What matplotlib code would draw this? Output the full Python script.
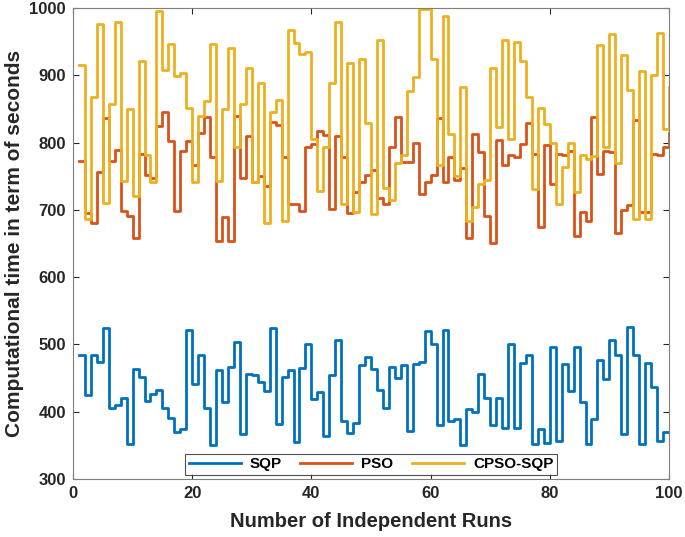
import numpy as np
import matplotlib
matplotlib.use("Agg")
from matplotlib import pyplot as plt

# values, runs 1..100
sqp = [485, 425, 485, 474, 524, 405, 410, 420, 352, 464,
       452, 416, 427, 432, 405, 390, 370, 374, 522, 441,
       485, 405, 351, 462, 414, 467, 504, 367, 456, 455,
       444, 431, 525, 382, 451, 462, 355, 465, 501, 419,
       429, 364, 455, 506, 386, 369, 383, 470, 482, 464,
       432, 405, 466, 450, 470, 371, 471, 474, 520, 501,
       381, 521, 386, 389, 350, 404, 400, 456, 421, 381,
       420, 376, 500, 376, 472, 485, 352, 375, 354, 496,
       357, 471, 431, 496, 414, 352, 389, 477, 449, 506,
       485, 367, 526, 485, 352, 472, 437, 356, 370, 370]

pso = [773, 696, 680, 756, 837, 773, 789, 698, 691, 658,
       783, 752, 748, 824, 845, 802, 699, 787, 802, 767,
       815, 838, 778, 654, 689, 654, 839, 748, 810, 741,
       750, 736, 830, 826, 779, 709, 709, 698, 793, 798,
       817, 812, 701, 810, 778, 696, 727, 741, 752, 760,
       718, 709, 793, 838, 771, 771, 799, 724, 741, 752,
       837, 741, 779, 744, 763, 658, 813, 786, 691, 651,
       804, 766, 782, 779, 798, 829, 783, 674, 796, 739,
       783, 781, 787, 661, 697, 684, 838, 753, 787, 786,
       666, 700, 707, 834, 697, 697, 783, 781, 793, 815]

cpso_sqp = [915, 686, 868, 976, 710, 858, 980, 743, 850, 721,
            921, 782, 741, 996, 908, 947, 899, 904, 852, 741,
            840, 862, 947, 743, 850, 941, 794, 857, 911, 741,
            888, 681, 845, 864, 683, 968, 948, 931, 934, 806,
            728, 793, 888, 980, 709, 918, 697, 925, 829, 694,
            952, 733, 715, 769, 781, 877, 897, 998, 999, 925,
            767, 988, 813, 751, 883, 684, 705, 739, 745, 911,
            823, 953, 805, 950, 921, 868, 731, 852, 828, 800,
            709, 764, 800, 726, 782, 775, 780, 945, 793, 961,
            769, 930, 878, 687, 906, 687, 900, 963, 820, 882]

labels = ["SQP", "PSO", "CPSO-SQP"]
colors = ["#0072BD", "#D95319", "#EDB120"]

plt.rcParams['font.family'] = ['Liberation Sans', 'DejaVu Sans']
plt.rcParams['font.weight'] = 'bold'

runs = np.arange(1, len(sqp) + 1)

fig = plt.figure(figsize=(6.85, 5.37), dpi=100)
ax = fig.add_axes([0.1066, 0.108, 0.87, 0.877])

for data, lab, col in zip([sqp, pso, cpso_sqp], labels, colors):
    ax.step(runs, data, where='post', color=col, linewidth=2, label=lab)

ax.set_xlim(0, 100)
ax.set_ylim(300, 1000)
ax.set_xticks(np.arange(0, 101, 20))
ax.set_yticks(np.arange(300, 1001, 100))
ax.tick_params(direction='in', top=True, right=True, labelsize=12,
               colors='#262626', length=4, width=0.8, pad=5)
for lbl in ax.get_xticklabels() + ax.get_yticklabels():
    lbl.set_fontweight('bold')
for sp in ax.spines.values():
    sp.set_color('#7f7f7f')
    sp.set_linewidth(0.8)

ax.set_xlabel("Number of Independent Runs", fontsize=14.5, fontweight='bold',
              color='#262626', labelpad=8)
ax.set_ylabel("Computational time in term of seconds", fontsize=15,
              fontweight='bold', color='#262626', labelpad=4)

leg = ax.legend(loc='lower center', ncol=3, fontsize=11, frameon=True,
                fancybox=False, edgecolor='#262626', borderaxespad=0.25,
                handlelength=3.4, columnspacing=1.2, borderpad=0.25,
                handletextpad=0.6)
leg.get_frame().set_linewidth(0.8)
for t in leg.get_texts():
    t.set_fontweight('bold')

fig.savefig("out.png", dpi=100)
